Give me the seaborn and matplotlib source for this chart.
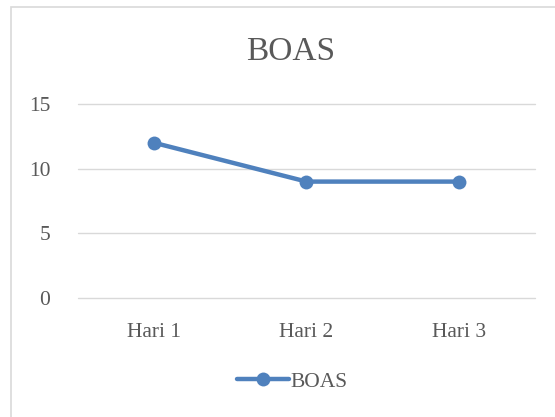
import pandas as pd
import matplotlib.pyplot as plt
import seaborn as sns
from matplotlib.patches import Rectangle

# data
days = ["Hari 1", "Hari 2", "Hari 3"]
boas = [12, 9, 9]
y_ticks = [0, 5, 10, 15]

df = pd.DataFrame({"hari": days, "BOAS": boas})

sns.set_style("white")
plt.rcParams["font.family"] = ["Liberation Serif", "DejaVu Serif"]

text_col = "#595959"
line_col = "#4F81BD"

fig = plt.figure(figsize=(5.55, 4.17), dpi=100)
ax = fig.add_axes([0.1405, 0.2854, 0.8235, 0.4652])

sns.lineplot(data=df, x="hari", y="BOAS", ax=ax, color=line_col, linewidth=3.2,
             marker="o", markersize=10, markeredgewidth=0, label="BOAS", sort=False)

ax.set_xlim(-0.5, len(days) - 0.5)
ax.set_ylim(0, 15)
ax.set_yticks(y_ticks)
ax.grid(axis="y", color="#d9d9d9", linewidth=1)
for gl in ax.get_ygridlines():
    gl.set_clip_on(False)
ax.set_axisbelow(True)
for s in ax.spines.values():
    s.set_visible(False)
ax.tick_params(axis="both", length=0, labelsize=15.5, colors=text_col)
ax.tick_params(axis="y", pad=20)
ax.tick_params(axis="x", pad=18)
ax.set_xlabel("")
ax.set_ylabel("")

fig.text(0.523, 0.875, "BOAS", ha="center", va="center", fontsize=24, color=text_col)

leg = ax.legend(loc="center", bbox_to_anchor=(0.527, 0.085), bbox_transform=fig.transFigure,
                frameon=False, fontsize=15.5, handlelength=2.4, handletextpad=0.1)
for t in leg.get_texts():
    t.set_color(text_col)

# outer chart frame
fig.patches.append(Rectangle((11 / 555, -0.1), 1.2, 1 - 7 / 417 + 0.1, transform=fig.transFigure,
                             fill=False, edgecolor="#d9d9d9", linewidth=1.2))

fig.savefig("out.png", dpi=100)
